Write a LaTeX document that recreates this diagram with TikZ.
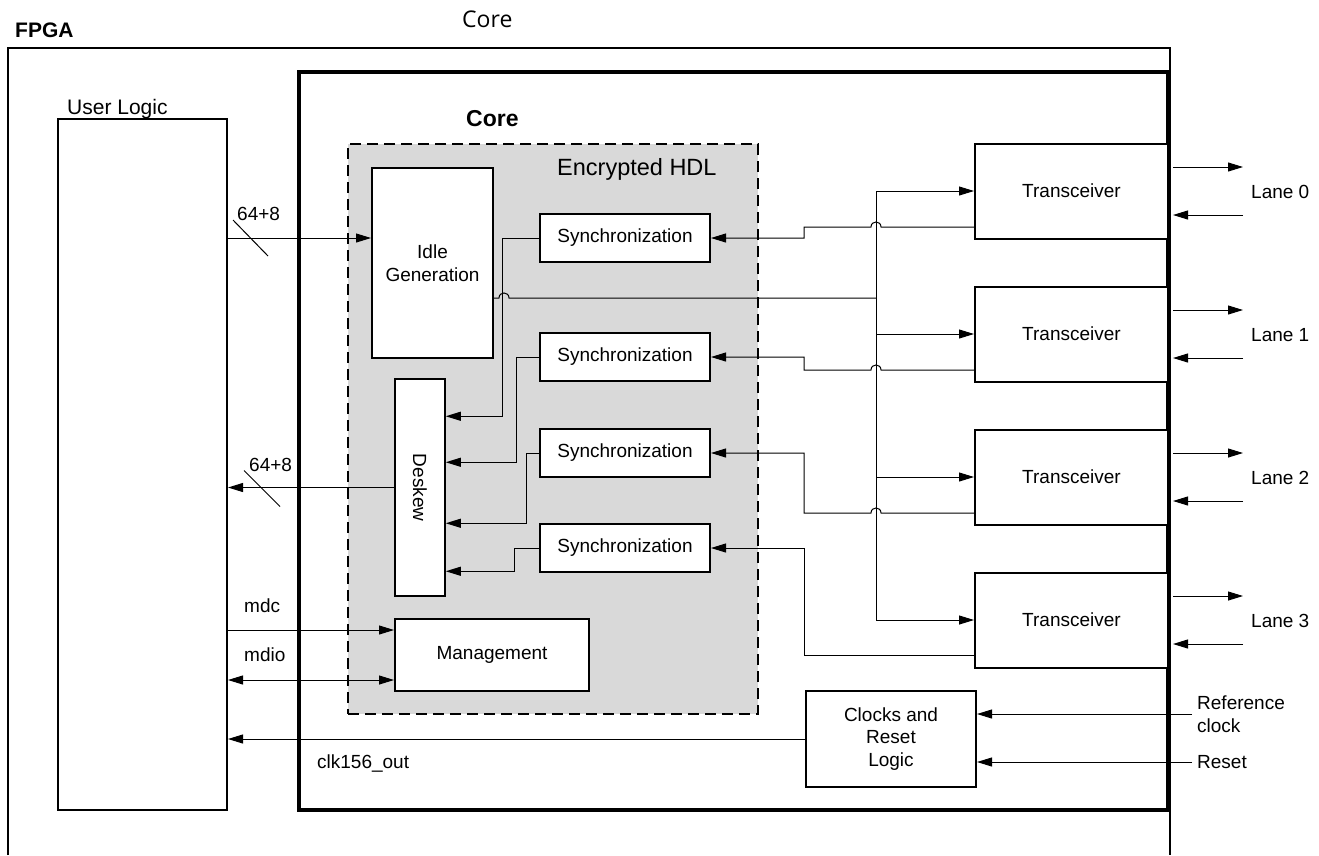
\documentclass[tikz,border=0pt]{standalone}
\usepackage{fontspec}
\setmainfont{Liberation Sans}
\newfontfamily\titlefont{Open Sans}
\usetikzlibrary{arrows.meta,calc}
\definecolor{hdlgray}{RGB}{217,217,217}

\begin{document}
\begin{tikzpicture}[x=1pt,y=-1pt,
    font=\fontsize{19}{22.5}\selectfont,
    block/.style={draw, line width=2pt, fill=white, inner sep=0pt, align=center},
    wire/.style={line width=1pt},
    sig/.style={wire, -{Triangle[length=15pt,width=9pt]}},
    lbl/.style={inner sep=0pt, anchor=base west}
    ]
    \useasboundingbox (0,0) rectangle (1319,855);

    % FPGA frame (runs off the bottom)
    \draw[line width=2pt] (8,855) |- (1170,48) -- (1170,855);
    \node[lbl, font=\fontsize{21}{25}\selectfont\bfseries] (fpga) at (15,37) {FPGA};
    \node[lbl, font=\fontsize{23}{27}\selectfont\titlefont] (coretop) at (462,27) {Core};

    % Core and user logic
    \node[draw, line width=3.5pt, minimum width=869pt, minimum height=738pt] (core) at (733.5,441) {};
    \node[lbl, font=\fontsize{23}{27}\selectfont\bfseries] (corelbl) at (466,126) {Core};
    \node[block, minimum width=169pt, minimum height=691pt] (user) at (142.5,464.5) {};
    \node[lbl, font=\fontsize{21}{25}\selectfont] (userlbl) at ($(user.north west)+(10,-4)$) {User Logic};

    % Encrypted HDL
    \node[draw, dash pattern=on 11pt off 6pt, fill=hdlgray, line width=1.3pt,
          minimum width=410pt, minimum height=570pt] (hdl) at (553,429) {};
    \node[lbl, font=\fontsize{23.5}{28}\selectfont] (hdllbl) at (557,175) {Encrypted HDL};

    % Blocks
    \node[block, minimum width=121pt, minimum height=190pt] (idle) at (432.5,263) {Idle\\Generation};
    \foreach \i/\y in {0/238,1/357,2/453,3/548}
        \node[block, minimum width=170pt, minimum height=48pt] (sync\i) at (625,\y) {Synchronization};
    \node[block, line width=1.5pt, minimum width=50pt, minimum height=217pt] (deskew) at (420,487.5) {};
    \node[rotate=-90] (deskewlbl) at (deskew.center) {Deskew};
    \node[block, minimum width=194pt, minimum height=72pt] (mgmt) at (492,655) {Management};
    \foreach \i/\y in {0/191,1/334,2/477,3/620}
        \node[block, minimum width=193pt, minimum height=95pt] (tx\i) at (1071.5,\y) {Transceiver};
    \node[block, minimum width=170pt, minimum height=96pt] (clk) at (891,739) {Clocks and\\Reset\\Logic};

    % User logic <-> core
    \draw[sig] (user.east |- sync0) -- (idle.west |- sync0);
    \draw[wire] ($(user.east |- sync0)+(5,-18)$) -- ++(35,36);
    \node[lbl] (busin) at (237,220) {64+8};
    \draw[sig] (deskew.west) -- (deskew.west -| user.east);
    \draw[wire] ($(deskew.west -| user.east)+(16,-17)$) -- ++(36,36);
    \node[lbl] (busout) at (249,471) {64+8};

    \coordinate (mdcin) at ($(mgmt.north west)+(0,12)$);
    \coordinate (mdioin) at ($(mgmt.south west)+(0,-12)$);
    \draw[sig] (mdcin -| user.east) -- (mdcin);
    \draw[wire, {Triangle[length=15pt,width=9pt]}-{Triangle[length=15pt,width=9pt]}] (mdioin -| user.east) -- (mdioin);
    \node[lbl] (mdc) at (244,612) {mdc};
    \node[lbl] (mdio) at (244,661) {mdio};

    \draw[sig] (clk.west) -- (clk.west -| user.east);
    \node[lbl] (clkout) at (317,768) {clk156\_out};

    % Synchronization -> Deskew
    \foreach \i/\dx/\dy in {0/37/38,1/23/84,2/13/145,3/25/193}
        \draw[sig] (sync\i.west) -- ++(-\dx,0) |- ($(deskew.north east)+(0,\dy)$);

    % Idle generation -> transceivers
    \coordinate (bus) at ($(tx0.west)+(-98,0)$);
    \coordinate (step) at ($(bus)+(-72,0)$);
    \draw[wire] (bus) -- (bus |- tx3);
    \foreach \i in {0,...,3}
        \draw[sig] (bus |- tx\i) -- (tx\i.west);
    \coordinate (idleout) at ($(idle.east)+(0,35)$);
    \draw[wire] (idleout) -- ++(5,0) .. controls +(0,-6.7) and +(0,-6.7) .. ++(10,0) -- (idleout -| bus);

    % Transceivers -> Synchronization
    \foreach \i in {0,1,2} {
        \coordinate (txo\i) at ($(tx\i.west)+(0,36)$);
        \draw[sig] (txo\i) -- ($(txo\i -| bus)+(5,0)$) .. controls +(0,-6.7) and +(0,-6.7) .. ++(-10,0)
            -- (txo\i -| step) |- (sync\i.east);
    }
    \coordinate (txo3) at ($(tx3.west)+(0,35)$);
    \draw[sig] (txo3) -- (txo3 -| step) |- (sync3.east);

    % Lanes
    \foreach \i in {0,...,3} {
        \node[lbl] (lane\i) at ($(tx\i.east)+(82,7)$) {Lane \i};
        \draw[sig] ($(tx\i.east)+(4,-24)$) -- ++(70,0);
        \draw[sig] ($(tx\i.east)+(74,24)$) -- ++(-70,0);
    }

    % Clock and reset inputs
    \node[lbl, anchor=west, align=left] (refclk) at (1197,714) {Reference\\clock};
    \node[lbl, anchor=west] (reset) at (1197,762) {Reset};
    \draw[sig] ($(refclk.west)+(-5,0)$) -- (refclk.west -| clk.east);
    \draw[sig] ($(reset.west)+(-5,0)$) -- (reset.west -| clk.east);
\end{tikzpicture}
\end{document}
